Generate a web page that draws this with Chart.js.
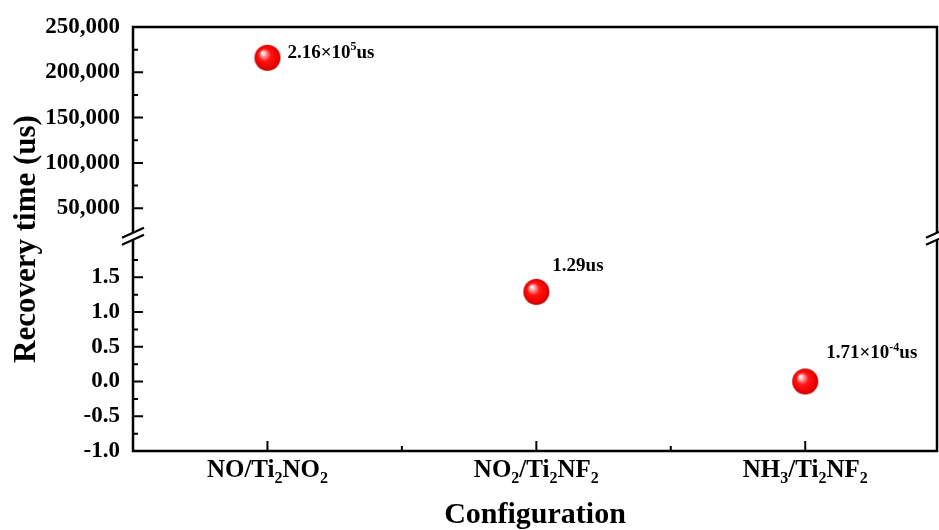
<!DOCTYPE html>
<html>
<head>
<meta charset="utf-8">
<script src="https://cdn.jsdelivr.net/npm/chart.js@4.4.0/dist/chart.umd.min.js"></script>
<style>
  html, body { margin: 0; padding: 0; background: #fff; }
  #wrap { width: 939px; height: 530px; }
</style>
</head>
<body>
<div id="wrap"><canvas id="chart" width="939" height="530"></canvas></div>
<script>
// ---- data ----
// _{..} = subscript, ^{..} = superscript
const CATEGORIES = ["NO/Ti_{2}NO_{2}", "NO_{2}/Ti_{2}NF_{2}", "NH_{3}/Ti_{2}NF_{2}"];
const RECOVERY_US = [216000, 1.29, 0.000171];
const VALUE_LABELS = ["2.16×10^{5}us", "1.29us", "1.71×10^{-4}us"];

// broken y axis: upper and lower segments
const UPPER_RANGE = [19000, 250000];
const LOWER_RANGE = [-1, 2.09];
const UPPER_TICKS = [50000, 100000, 150000, 200000, 250000];
const LOWER_TICKS = [-1.0, -0.5, 0.0, 0.5, 1.0, 1.5];
const UPPER_STEP = 50000;
const LOWER_STEP = 0.5;
const BREAK_VALUE = 1000; // anything above goes on the upper segment

const FONT = '"Liberation Serif", "Times New Roman", serif';

// ------------------------------------------------------------

function richParts(s) {
  const out = [];
  const re = /([_^])\{([^}]*)\}|([^_^]+)/g;
  let m;
  while ((m = re.exec(s))) {
    if (m[3]) out.push({ t: m[3], k: "n" });
    else out.push({ t: m[2], k: m[1] === "_" ? "sub" : "sup" });
  }
  return out;
}

function drawRich(ctx, s, x, y, size, align) {
  const parts = richParts(s);
  const small = Math.round(size * 0.65);
  const fontOf = p => `bold ${p.k === "n" ? size : small}px ${FONT}`;
  let w = 0;
  for (const p of parts) {
    ctx.font = fontOf(p);
    p.w = ctx.measureText(p.t).width;
    w += p.w;
  }
  let cx = align === "center" ? x - w / 2 : x;
  ctx.textAlign = "left";
  ctx.textBaseline = "alphabetic";
  for (const p of parts) {
    ctx.font = fontOf(p);
    const dy = p.k === "sub" ? size * 0.22 : p.k === "sup" ? -size * 0.42 : 0;
    ctx.fillText(p.t, cx, y + dy);
    cx += p.w;
  }
}

function sphere(r) {
  const c = document.createElement("canvas");
  c.width = c.height = 2 * r + 2;
  const g = c.getContext("2d");
  const m = r + 1;
  const grad = g.createRadialGradient(m - r * 0.38, m - r * 0.38, r * 0.04, m, m, r);
  grad.addColorStop(0, "#ffffff");
  grad.addColorStop(0.18, "#ffa0a0");
  grad.addColorStop(0.45, "#ff1414");
  grad.addColorStop(0.85, "#ee0000");
  grad.addColorStop(1, "#b50000");
  g.fillStyle = grad;
  g.beginPath();
  g.arc(m, m, r, 0, Math.PI * 2);
  g.fill();
  return c;
}

const upperPts = [];
const lowerPts = [];
RECOVERY_US.forEach((v, i) => {
  const p = { x: i + 1, y: v, idx: i };
  if (v > BREAK_VALUE) upperPts.push(p); else lowerPts.push(p);
});

// offsets of the value labels from their points (text baseline, left edge)
const LABEL_OFFSETS = [[20, 0], [16, -21], [21, -23]];

const framePlugin = {
  id: "frame",
  beforeDatasetsDraw(chart) {
    const ctx = chart.ctx;
    const a = chart.chartArea;
    const up = chart.scales.yUp, lo = chart.scales.yLo, x = chart.scales.x;
    const joinY = up.bottom;
    ctx.save();
    ctx.strokeStyle = "#000";
    ctx.lineWidth = 2.5;
    ctx.strokeRect(a.left, a.top, a.right - a.left, a.bottom - a.top);

    ctx.lineWidth = 2;
    ctx.beginPath();
    // x ticks (inward)
    for (let v = 1; v <= 3.0001; v += 0.5) {
      const px = x.getPixelForValue(v);
      const len = Number.isInteger(v) ? 10 : 5;
      ctx.moveTo(px, a.bottom);
      ctx.lineTo(px, a.bottom - len);
    }
    // y ticks, both segments
    const yTicks = (scale, step) => {
      const half = step / 2;
      for (let v = Math.ceil(scale.min / half) * half; v <= scale.max + 1e-9; v += half) {
        const py = scale.getPixelForValue(v);
        if (Math.abs(py - joinY) < 8) continue;
        const major = Math.abs(v / step - Math.round(v / step)) < 1e-6;
        const len = major ? 10 : 5;
        ctx.moveTo(a.left, py);
        ctx.lineTo(a.left + len, py);
      }
    };
    yTicks(up, UPPER_STEP);
    yTicks(lo, LOWER_STEP);
    ctx.stroke();

    // axis break marks on left and right
    const dx = 11, dy = 5, h = 3.5;
    for (const bx of [a.left, a.right]) {
      ctx.fillStyle = "#fff";
      ctx.beginPath();
      ctx.moveTo(bx - dx, joinY + dy - h);
      ctx.lineTo(bx + dx, joinY - dy - h);
      ctx.lineTo(bx + dx, joinY - dy + h);
      ctx.lineTo(bx - dx, joinY + dy + h);
      ctx.closePath();
      ctx.fill();
      ctx.lineWidth = 2.2;
      ctx.beginPath();
      ctx.moveTo(bx - dx, joinY + dy - h);
      ctx.lineTo(bx + dx, joinY - dy - h);
      ctx.moveTo(bx - dx, joinY + dy + h);
      ctx.lineTo(bx + dx, joinY - dy + h);
      ctx.stroke();
    }
    ctx.restore();
  },
  afterDraw(chart) {
    const ctx = chart.ctx;
    const a = chart.chartArea;
    const x = chart.scales.x;
    ctx.save();
    ctx.fillStyle = "#000";

    // category labels with subscripts
    CATEGORIES.forEach((c, i) => {
      drawRich(ctx, c, x.getPixelForValue(i + 1), a.bottom + 26, 25, "center");
    });

    // value labels next to the points
    chart.data.datasets.forEach((ds, di) => {
      const meta = chart.getDatasetMeta(di);
      ds.data.forEach((p, j) => {
        const el = meta.data[j];
        const off = LABEL_OFFSETS[p.idx];
        drawRich(ctx, VALUE_LABELS[p.idx], el.x + off[0], el.y + off[1], 19, "left");
      });
    });

    // y axis title
    ctx.translate(27, (a.top + a.bottom) / 2);
    ctx.rotate(-Math.PI / 2);
    ctx.font = `bold 31px ${FONT}`;
    ctx.textAlign = "center";
    ctx.textBaseline = "middle";
    ctx.fillText("Recovery time (us)", 0, 0);
    ctx.restore();
  }
};

const ball = sphere(13);
const tickFont = { family: FONT, size: 23, weight: "bold" };

const upperPx = (UPPER_RANGE[1] - UPPER_RANGE[0]) / UPPER_STEP * 45.1;
const lowerPx = (LOWER_RANGE[1] - LOWER_RANGE[0]) / LOWER_STEP * 34.6;

new Chart(document.getElementById("chart"), {
  type: "scatter",
  data: {
    datasets: [
      { data: lowerPts, yAxisID: "yLo", pointStyle: ball, pointRadius: 13 },
      { data: upperPts, yAxisID: "yUp", pointStyle: ball, pointRadius: 13 }
    ]
  },
  options: {
    responsive: false,
    animation: false,
    layout: { autoPadding: false, padding: { top: 27, right: 2, left: 0, bottom: 0 } },
    plugins: { legend: { display: false }, tooltip: { enabled: false } },
    scales: {
      x: {
        type: "linear",
        min: 0.5,
        max: 3.49,
        grid: { display: false, drawTicks: false },
        border: { display: false },
        ticks: { display: false },
        title: {
          display: true,
          text: "Configuration",
          color: "#000",
          font: { family: FONT, size: 30, weight: "bold", lineHeight: 1.0 },
          padding: { top: 0, bottom: 0 }
        },
        afterFit: s => { s.height = 79; }
      },
      yLo: {
        type: "linear",
        position: "left",
        stack: "y",
        stackWeight: lowerPx,
        min: LOWER_RANGE[0],
        max: LOWER_RANGE[1],
        grid: { display: false, drawTicks: false },
        border: { display: false },
        ticks: {
          autoSkip: false,
          color: "#000",
          font: tickFont,
          padding: 13,
          callback: v => v.toFixed(1)
        },
        afterBuildTicks: s => { s.ticks = LOWER_TICKS.map(v => ({ value: v })); },
        afterFit: s => { s.width = 133; }
      },
      yUp: {
        type: "linear",
        position: "left",
        stack: "y",
        stackWeight: upperPx,
        min: UPPER_RANGE[0],
        max: UPPER_RANGE[1],
        grid: { display: false, drawTicks: false },
        border: { display: false },
        ticks: {
          autoSkip: false,
          color: "#000",
          font: tickFont,
          padding: 13,
          callback: v => v.toLocaleString("en-US")
        },
        afterBuildTicks: s => { s.ticks = UPPER_TICKS.map(v => ({ value: v })); },
        afterFit: s => { s.width = 133; }
      }
    }
  },
  plugins: [framePlugin]
});
</script>
</body>
</html>
